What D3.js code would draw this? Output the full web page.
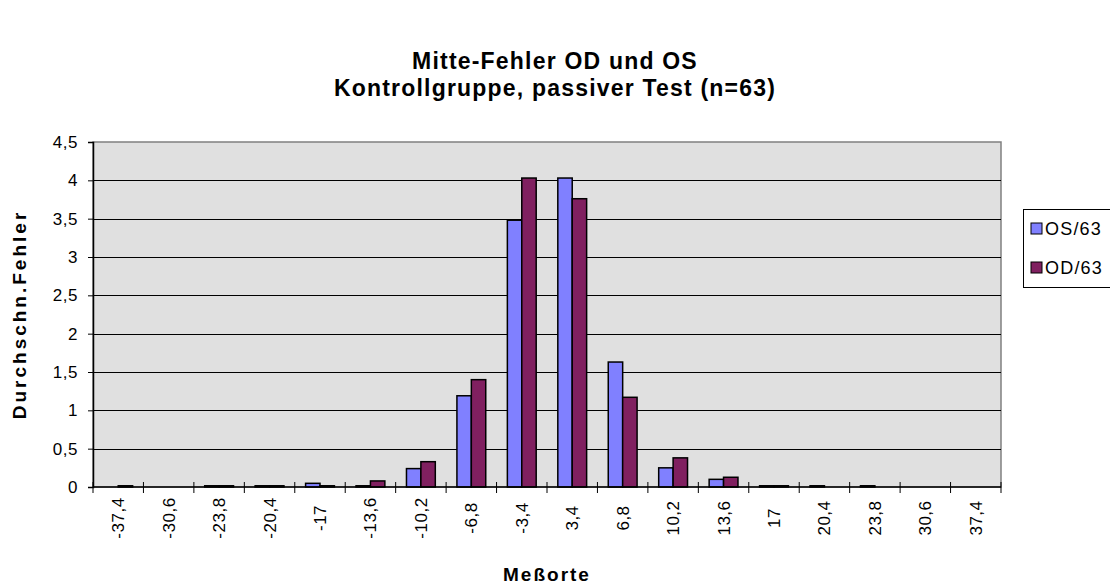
<!DOCTYPE html>
<html>
<head>
<meta charset="utf-8">
<script src="https://cdn.jsdelivr.net/npm/d3@7/dist/d3.min.js"></script>
<style>
  html, body { margin: 0; padding: 0; background: #fff; }
  svg { display: block; font-family: "Liberation Sans", Arial, sans-serif; }
</style>
</head>
<body>
<div id="chart"></div>
<script>
// Meßorte (x categories)
const categories = ["-37,4", "-30,6", "-23,8", "-20,4", "-17", "-13,6", "-10,2", "-6,8", "-3,4",
                    "3,4", "6,8", "10,2", "13,6", "17", "20,4", "23,8", "30,6", "37,4"];
// durchschnittlicher Fehler je Meßort
const osValues = [0, 0, 0.016, 0.016, 0.048, 0.016, 0.24, 1.19, 3.48, 4.03, 1.63, 0.25, 0.10, 0.016, 0.016, 0.016, 0, 0];
const odValues = [0.016, 0, 0.016, 0.016, 0.016, 0.079, 0.33, 1.40, 4.03, 3.76, 1.17, 0.38, 0.127, 0.016, 0, 0, 0, 0];
const seriesNames = ["OS/63", "OD/63"];
const yTicks = [0, 0.5, 1, 1.5, 2, 2.5, 3, 3.5, 4, 4.5];
const titleLines = ["Mitte-Fehler OD und OS", "Kontrollgruppe, passiver Test (n=63)"];

const W = 1110, H = 586;
const plot = { left: 93, right: 1001, top: 142, bottom: 487 };
const colors = ["#8080FF", "#802060"];

const svg = d3.select("#chart").append("svg")
    .attr("width", W)
    .attr("height", H);

const x = d3.scaleBand()
    .domain(categories)
    .range([plot.left, plot.right]);

const y = d3.scaleLinear()
    .domain([0, 4.5])
    .range([plot.bottom, plot.top]);

// Plotfläche
svg.append("rect")
    .attr("x", plot.left)
    .attr("y", plot.top)
    .attr("width", plot.right - plot.left)
    .attr("height", plot.bottom - plot.top)
    .attr("fill", "#E0E0E0")
    .attr("stroke", "#808080")
    .attr("stroke-width", 1.5);

// Gitterlinien
svg.append("g")
    .selectAll("line")
    .data(yTicks.filter(d => d > 0 && d < 4.5))
    .join("line")
    .attr("x1", plot.left)
    .attr("x2", plot.right)
    .attr("y1", d => Math.round(y(d)) + 0.5)
    .attr("y2", d => Math.round(y(d)) + 0.5)
    .attr("stroke", "#000")
    .attr("stroke-width", 1);

// Balken (Lückenbreite 150 %)
const xs = d3.scaleBand()
    .domain([0, 1])
    .range([0, x.bandwidth() * 2 / 3.5]);

const series = [osValues, odValues];
series.forEach((vals, si) => {
    svg.append("g")
        .selectAll("rect")
        .data(vals.map((v, i) => ({ cat: categories[i], v })).filter(d => d.v > 0))
        .join("rect")
        .attr("x", d => x(d.cat) + x.bandwidth() / 2 - x.bandwidth() / 3.5 + xs(si))
        .attr("width", xs.bandwidth())
        .attr("y", d => y(d.v))
        .attr("height", d => y(0) - y(d.v))
        .attr("fill", colors[si])
        .attr("stroke", "#000")
        .attr("stroke-width", 1.5);
});

// y-Achse
const yAxis = d3.axisLeft(y)
    .tickValues(yTicks)
    .tickSize(5)
    .tickPadding(10)
    .tickFormat(d => String(d).replace(".", ","));

const gy = svg.append("g")
    .attr("transform", `translate(${plot.left},0)`)
    .call(yAxis);
gy.select(".domain").attr("stroke", "#000").attr("stroke-width", 1.5);
gy.selectAll("text")
    .attr("font-size", 17)
    .attr("letter-spacing", 0.5)
    .attr("fill", "#000")
    .attr("font-family", "Liberation Sans, Arial, sans-serif");

// x-Achse
const xg = svg.append("g");
xg.append("line")
    .attr("x1", plot.left)
    .attr("x2", plot.right)
    .attr("y1", plot.bottom)
    .attr("y2", plot.bottom)
    .attr("stroke", "#000")
    .attr("stroke-width", 1.5);

const edges = d3.range(categories.length + 1);
const xEdge = d3.scaleLinear().domain([0, categories.length]).range([plot.left, plot.right]);
xg.selectAll(".tick")
    .data(edges)
    .join("line")
    .attr("class", "tick")
    .attr("x1", d => xEdge(d))
    .attr("x2", d => xEdge(d))
    .attr("y1", plot.bottom - 5)
    .attr("y2", plot.bottom + 6)
    .attr("stroke", "#000")
    .attr("stroke-width", 1);

xg.selectAll("text")
    .data(categories)
    .join("text")
    .attr("transform", d => `translate(${x(d) + x.bandwidth() / 2},${plot.bottom + 31}) rotate(-90)`)
    .attr("text-anchor", "middle")
    .attr("dy", "0.35em")
    .attr("font-size", 17)
    .attr("letter-spacing", 0.5)
    .text(d => d);

// Titel
svg.append("text")
    .attr("x", 555)
    .attr("text-anchor", "middle")
    .attr("font-weight", "bold")
    .attr("font-size", 23)
    .attr("letter-spacing", 1.2)
    .selectAll("tspan")
    .data(titleLines)
    .join("tspan")
    .attr("x", 555)
    .attr("y", (d, i) => 69 + i * 27)
    .text(d => d);

// Achsentitel
svg.append("text")
    .attr("x", (plot.left + plot.right) / 2)
    .attr("y", 581)
    .attr("text-anchor", "middle")
    .attr("font-weight", "bold")
    .attr("font-size", 19)
    .attr("letter-spacing", 2)
    .text("Meßorte");

svg.append("text")
    .attr("transform", `translate(26,${(plot.top + plot.bottom) / 2}) rotate(-90)`)
    .attr("text-anchor", "middle")
    .attr("font-weight", "bold")
    .attr("font-size", 19)
    .attr("letter-spacing", 3)
    .text("Durchschn.Fehler");

// Legende
const legend = svg.append("g");
legend.append("rect")
    .attr("x", 1023.5)
    .attr("y", 209.5)
    .attr("width", 100)
    .attr("height", 78)
    .attr("fill", "#fff")
    .attr("stroke", "#000")
    .attr("stroke-width", 1);

const items = legend.selectAll("g.item")
    .data(seriesNames)
    .join("g")
    .attr("class", "item")
    .attr("transform", (d, i) => `translate(1031,${223 + i * 39})`);
items.append("rect")
    .attr("width", 11)
    .attr("height", 11)
    .attr("fill", (d, i) => colors[i])
    .attr("stroke", "#000")
    .attr("stroke-width", 1);
items.append("text")
    .attr("x", 14)
    .attr("y", 12)
    .attr("font-size", 18)
    .attr("letter-spacing", 1.2)
    .text(d => d);
</script>
</body>
</html>
